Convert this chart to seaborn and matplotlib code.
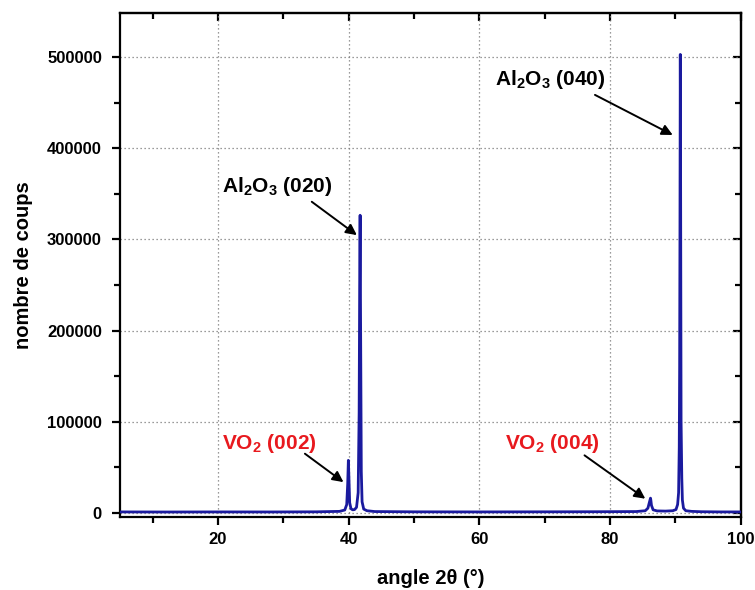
import matplotlib
matplotlib.use("Agg")
import matplotlib.pyplot as plt
from matplotlib.ticker import MultipleLocator, FuncFormatter
import seaborn as sns
import pandas as pd

# XRD scan of a VO2 film on sapphire: sampled points of the measured profile
two_theta = [5.0, 12.0, 20.0, 28.0, 35.0, 38.6, 39.4, 39.7, 39.85, 39.95, 40.03,
             40.15, 40.35, 40.6, 40.9, 41.2, 41.45, 41.6, 41.68, 41.75, 41.8,
             41.86, 41.93, 42.05, 42.3, 42.8, 44.0, 50.0, 60.0, 70.0, 78.0, 84.0,
             85.4, 85.8, 86.05, 86.2, 86.25, 86.35, 86.6, 87.2, 88.5, 89.6,
             90.1, 90.35, 90.5, 90.6, 90.66, 90.71, 90.76, 90.8, 90.84, 90.88,
             90.93, 90.99, 91.08, 91.25, 91.6, 92.5, 94.0, 97.0, 100.0]
counts = [900, 800, 900, 850, 1000, 1500, 3000, 9000, 32000, 57500, 40000,
          11000, 4500, 3200, 3500, 6000, 22000, 110000, 250000, 326500, 240000,
          150000, 45000, 12000, 4000, 2200, 1300, 1000, 900, 1000, 1100, 1300,
          2200, 5000, 12000, 16000, 14000, 8000, 3200, 2000, 1800, 2200,
          3500, 9000, 22000, 72000, 160000, 313000, 503000, 400000, 244000,
          101000, 72000, 38000, 14000, 5000, 2200, 1500, 1100, 900, 900]

x_ticks = [20, 40, 60, 80, 100]
y_ticks = [0, 100000, 200000, 300000, 400000, 500000]

# Peak labels: (text, colour, text x, text baseline y, arrow tail, arrow tip)
label_texts = [r"Al$_{\mathbf{2}}$O$_{\mathbf{3}}$ (020)",
               r"Al$_{\mathbf{2}}$O$_{\mathbf{3}}$ (040)",
               r"VO$_{\mathbf{2}}$ (002)",
               r"VO$_{\mathbf{2}}$ (004)"]
label_colors = ["black", "black", "#e8191e", "#e8191e"]
label_pos = [(20.6, 352000), (62.4, 469600), (20.6, 70300), (64.0, 70300)]
arrow_tail = [(34.35, 341300), (77.7, 458600), (33.3, 64800), (76.1, 63000)]
arrow_tip = [(41.25, 304700), (89.6, 414600), (39.2, 33600), (85.4, 15400)]

sns.set_style("ticks")
plt.rcParams["font.family"] = ["Liberation Sans", "DejaVu Sans"]
plt.rcParams["font.weight"] = "bold"
plt.rcParams["text.color"] = "black"
plt.rcParams["axes.labelcolor"] = "black"
plt.rcParams["xtick.color"] = "black"
plt.rcParams["ytick.color"] = "black"
plt.rcParams["mathtext.fontset"] = "custom"
plt.rcParams["mathtext.bf"] = "Liberation Sans:bold"
plt.rcParams["mathtext.rm"] = "Liberation Sans:bold"
plt.rcParams["mathtext.default"] = "bf"

fig = plt.figure(figsize=(7.55, 5.9), dpi=100)
ax = fig.add_axes([0.159, 0.124, 0.822, 0.854])

df = pd.DataFrame({"angle": two_theta, "coups": counts})
sns.lineplot(data=df, x="angle", y="coups", ax=ax, color="#1a1a9e",
             linewidth=2.0, zorder=3)

ax.set_xlim(5, 100)
ax.set_ylim(-4500, 548500)
ax.set_xticks(x_ticks)
ax.set_yticks(y_ticks)
ax.xaxis.set_minor_locator(MultipleLocator(10))
ax.yaxis.set_minor_locator(MultipleLocator(50000))
ax.yaxis.set_major_formatter(FuncFormatter(lambda v, p: f"{int(round(v))}"))

ax.grid(True, which="major", linestyle=(0, (1, 2.2)), color="#7a7a7a",
        linewidth=0.9)
for s in ax.spines.values():
    s.set_visible(True)
    s.set_linewidth(1.6)
    s.set_color("black")

ax.tick_params(which="major", direction="out", length=6, width=1.6,
               labelsize=12, top=False, right=False, colors="black")
ax.tick_params(axis="y", which="major", pad=7)
ax.tick_params(axis="x", which="major", pad=5)
ax.tick_params(which="minor", direction="out", length=4, width=1.6,
               top=False, right=False, colors="black")

# Inward ticks on the top and right frame
top = ax.secondary_xaxis("top")
top.set_xticks(x_ticks)
top.xaxis.set_minor_locator(MultipleLocator(10))
top.tick_params(which="major", direction="in", length=6, width=1.6,
                labeltop=False, colors="black")
top.tick_params(which="minor", direction="in", length=4, width=1.6,
                colors="black")
top.spines["top"].set_linewidth(1.6)

right = ax.secondary_yaxis("right")
right.set_yticks(y_ticks)
right.yaxis.set_minor_locator(MultipleLocator(50000))
right.tick_params(which="major", direction="in", length=6, width=1.6,
                  labelright=False, colors="black")
right.tick_params(which="minor", direction="in", length=4, width=1.6,
                  colors="black")
right.spines["right"].set_linewidth(1.6)

for lbl in ax.get_xticklabels() + ax.get_yticklabels():
    lbl.set_fontweight("bold")
    lbl.set_color("black")

ax.set_xlabel("angle 2θ (°)", fontsize=14.5, fontweight="bold", labelpad=16,
              color="black")
ax.set_ylabel("nombre de coups", fontsize=14.5, fontweight="bold", labelpad=10,
              color="black")

for txt, col, (tx, ty), tail, tip in zip(label_texts, label_colors, label_pos,
                                         arrow_tail, arrow_tip):
    ax.text(tx, ty, txt, color=col, fontsize=15, fontweight="bold",
            ha="left", va="baseline", zorder=5)
    ax.annotate("", xy=tip, xytext=tail,
                arrowprops=dict(arrowstyle="-|>", color="black", lw=1.4,
                                mutation_scale=16, shrinkA=0, shrinkB=0),
                zorder=5)

fig.savefig("out.png", dpi=100)
